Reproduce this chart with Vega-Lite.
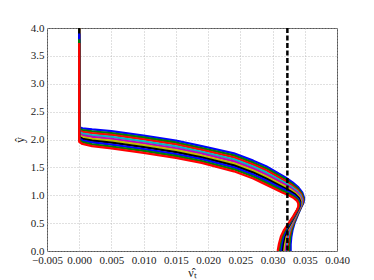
{
  "$schema": "https://vega.github.io/schema/vega-lite/v6.json",
  "width": 290,
  "height": 223,
  "autosize": "none",
  "padding": {"left": 47, "top": 28, "right": 37, "bottom": 29},
  "background": "white",
  "config": {
    "view": {"stroke": "#555555", "strokeWidth": 1},
    "axis": {
      "labelFont": "Liberation Serif",
      "labelFontSize": 11,
      "labelColor": "#222222",
      "titleFont": "Liberation Serif",
      "titleFontSize": 12,
      "titleFontWeight": "normal",
      "titleColor": "#222222",
      "grid": true,
      "gridColor": "#b0b0b0",
      "gridDash": [1, 2],
      "gridWidth": 0.8,
      "domain": false,
      "ticks": false,
      "labelOverlap": false
    }
  },
  "layer": [
    {
      "data": {"values": [
        {"s":1,"k":0,"x":0,"y":4.0},{"s":1,"k":1,"x":0,"y":2.22},{"s":1,"k":2,"x":0.0005,"y":2.20},{"s":1,"k":3,"x":0.002,"y":2.18},{"s":1,"k":4,"x":0.005,"y":2.15},{"s":1,"k":5,"x":0.010,"y":2.07},{"s":1,"k":6,"x":0.015,"y":1.98},{"s":1,"k":7,"x":0.019,"y":1.88},{"s":1,"k":8,"x":0.024,"y":1.75},{"s":1,"k":9,"x":0.027,"y":1.62},{"s":1,"k":10,"x":0.029,"y":1.52},{"s":1,"k":11,"x":0.0320,"y":1.32},{"s":1,"k":11.5,"x":0.0331,"y":1.23},{"s":1,"k":12,"x":0.0340,"y":1.14},{"s":1,"k":12.5,"x":0.0346,"y":1.05},{"s":1,"k":13,"x":0.0349,"y":0.95},{"s":1,"k":13.5,"x":0.0348,"y":0.87},{"s":1,"k":14,"x":0.0345,"y":0.80},{"s":1,"k":15,"x":0.0340,"y":0.67},{"s":1,"k":16,"x":0.0334,"y":0.50},{"s":1,"k":17,"x":0.0331,"y":0.38},{"s":1,"k":18,"x":0.0329,"y":0.25},{"s":1,"k":19,"x":0.0328,"y":0.12},{"s":1,"k":20,"x":0.0328,"y":0.0},
        {"s":2,"k":0,"x":0,"y":4.0},{"s":2,"k":1,"x":0,"y":2.191},{"s":2,"k":2,"x":0.0005,"y":2.169},{"s":2,"k":3,"x":0.002,"y":2.147},{"s":2,"k":4,"x":0.005,"y":2.116},{"s":2,"k":5,"x":0.010,"y":2.036},{"s":2,"k":6,"x":0.015,"y":1.946},{"s":2,"k":7,"x":0.019,"y":1.847},{"s":2,"k":8,"x":0.024,"y":1.714},{"s":2,"k":9,"x":0.027,"y":1.584},{"s":2,"k":10,"x":0.029,"y":1.483},{"s":2,"k":11,"x":0.03194,"y":1.29},{"s":2,"k":11.5,"x":0.03303,"y":1.204},{"s":2,"k":12,"x":0.03392,"y":1.119},{"s":2,"k":12.5,"x":0.03451,"y":1.033},{"s":2,"k":13,"x":0.0348,"y":0.939},{"s":2,"k":13.5,"x":0.03471,"y":0.862},{"s":2,"k":14,"x":0.03442,"y":0.793},{"s":2,"k":15,"x":0.03391,"y":0.664},{"s":2,"k":16,"x":0.0333,"y":0.50},{"s":2,"k":17,"x":0.03296,"y":0.38},{"s":2,"k":18,"x":0.03272,"y":0.251},{"s":2,"k":19,"x":0.0326,"y":0.121},{"s":2,"k":20,"x":0.03258,"y":0.0},
        {"s":3,"k":0,"x":0,"y":4.0},{"s":3,"k":1,"x":0,"y":2.162},{"s":3,"k":2,"x":0.0005,"y":2.138},{"s":3,"k":3,"x":0.002,"y":2.113},{"s":3,"k":4,"x":0.005,"y":2.081},{"s":3,"k":5,"x":0.010,"y":2.001},{"s":3,"k":6,"x":0.015,"y":1.911},{"s":3,"k":7,"x":0.019,"y":1.813},{"s":3,"k":8,"x":0.024,"y":1.679},{"s":3,"k":9,"x":0.027,"y":1.549},{"s":3,"k":10,"x":0.029,"y":1.447},{"s":3,"k":11,"x":0.03189,"y":1.26},{"s":3,"k":11.5,"x":0.03297,"y":1.179},{"s":3,"k":12,"x":0.03384,"y":1.098},{"s":3,"k":12.5,"x":0.03442,"y":1.017},{"s":3,"k":13,"x":0.0347,"y":0.928},{"s":3,"k":13.5,"x":0.03462,"y":0.853},{"s":3,"k":14,"x":0.03434,"y":0.787},{"s":3,"k":15,"x":0.03382,"y":0.659},{"s":3,"k":16,"x":0.0332,"y":0.50},{"s":3,"k":17,"x":0.03281,"y":0.38},{"s":3,"k":18,"x":0.03254,"y":0.252},{"s":3,"k":19,"x":0.0324,"y":0.122},{"s":3,"k":20,"x":0.03236,"y":0.0},
        {"s":4,"k":0,"x":0,"y":4.0},{"s":4,"k":1,"x":0,"y":2.133},{"s":4,"k":2,"x":0.0005,"y":2.107},{"s":4,"k":3,"x":0.002,"y":2.08},{"s":4,"k":4,"x":0.005,"y":2.047},{"s":4,"k":5,"x":0.010,"y":1.967},{"s":4,"k":6,"x":0.015,"y":1.877},{"s":4,"k":7,"x":0.019,"y":1.78},{"s":4,"k":8,"x":0.024,"y":1.643},{"s":4,"k":9,"x":0.027,"y":1.513},{"s":4,"k":10,"x":0.029,"y":1.41},{"s":4,"k":11,"x":0.03183,"y":1.23},{"s":4,"k":11.5,"x":0.0329,"y":1.153},{"s":4,"k":12,"x":0.03377,"y":1.077},{"s":4,"k":12.5,"x":0.03433,"y":1.0},{"s":4,"k":13,"x":0.0346,"y":0.917},{"s":4,"k":13.5,"x":0.03453,"y":0.845},{"s":4,"k":14,"x":0.03427,"y":0.78},{"s":4,"k":15,"x":0.03373,"y":0.653},{"s":4,"k":16,"x":0.0331,"y":0.50},{"s":4,"k":17,"x":0.03267,"y":0.38},{"s":4,"k":18,"x":0.03237,"y":0.253},{"s":4,"k":19,"x":0.0322,"y":0.123},{"s":4,"k":20,"x":0.03213,"y":0.0},
        {"s":5,"k":0,"x":0,"y":4.0},{"s":5,"k":1,"x":0,"y":2.104},{"s":5,"k":2,"x":0.0005,"y":2.076},{"s":5,"k":3,"x":0.002,"y":2.047},{"s":5,"k":4,"x":0.005,"y":2.012},{"s":5,"k":5,"x":0.010,"y":1.932},{"s":5,"k":6,"x":0.015,"y":1.842},{"s":5,"k":7,"x":0.019,"y":1.747},{"s":5,"k":8,"x":0.024,"y":1.608},{"s":5,"k":9,"x":0.027,"y":1.478},{"s":5,"k":10,"x":0.029,"y":1.373},{"s":5,"k":11,"x":0.03178,"y":1.20},{"s":5,"k":11.5,"x":0.03283,"y":1.128},{"s":5,"k":12,"x":0.03369,"y":1.056},{"s":5,"k":12.5,"x":0.03424,"y":0.983},{"s":5,"k":13,"x":0.0345,"y":0.906},{"s":5,"k":13.5,"x":0.03444,"y":0.837},{"s":5,"k":14,"x":0.03419,"y":0.773},{"s":5,"k":15,"x":0.03364,"y":0.648},{"s":5,"k":16,"x":0.0330,"y":0.50},{"s":5,"k":17,"x":0.03252,"y":0.38},{"s":5,"k":18,"x":0.03219,"y":0.254},{"s":5,"k":19,"x":0.0320,"y":0.124},{"s":5,"k":20,"x":0.03191,"y":0.0},
        {"s":6,"k":0,"x":0,"y":4.0},{"s":6,"k":1,"x":0,"y":2.076},{"s":6,"k":2,"x":0.0005,"y":2.044},{"s":6,"k":3,"x":0.002,"y":2.013},{"s":6,"k":4,"x":0.005,"y":1.978},{"s":6,"k":5,"x":0.010,"y":1.898},{"s":6,"k":6,"x":0.015,"y":1.808},{"s":6,"k":7,"x":0.019,"y":1.713},{"s":6,"k":8,"x":0.024,"y":1.572},{"s":6,"k":9,"x":0.027,"y":1.442},{"s":6,"k":10,"x":0.029,"y":1.337},{"s":6,"k":11,"x":0.03172,"y":1.17},{"s":6,"k":11.5,"x":0.03277,"y":1.102},{"s":6,"k":12,"x":0.03361,"y":1.034},{"s":6,"k":12.5,"x":0.03416,"y":0.967},{"s":6,"k":13,"x":0.0344,"y":0.894},{"s":6,"k":13.5,"x":0.03436,"y":0.828},{"s":6,"k":14,"x":0.03411,"y":0.767},{"s":6,"k":15,"x":0.03356,"y":0.642},{"s":6,"k":16,"x":0.0329,"y":0.50},{"s":6,"k":17,"x":0.03238,"y":0.38},{"s":6,"k":18,"x":0.03201,"y":0.256},{"s":6,"k":19,"x":0.0318,"y":0.126},{"s":6,"k":20,"x":0.03169,"y":0.0},
        {"s":7,"k":0,"x":0,"y":4.0},{"s":7,"k":1,"x":0,"y":2.047},{"s":7,"k":2,"x":0.0005,"y":2.013},{"s":7,"k":3,"x":0.002,"y":1.98},{"s":7,"k":4,"x":0.005,"y":1.943},{"s":7,"k":5,"x":0.010,"y":1.863},{"s":7,"k":6,"x":0.015,"y":1.773},{"s":7,"k":7,"x":0.019,"y":1.68},{"s":7,"k":8,"x":0.024,"y":1.537},{"s":7,"k":9,"x":0.027,"y":1.407},{"s":7,"k":10,"x":0.029,"y":1.30},{"s":7,"k":11,"x":0.03167,"y":1.14},{"s":7,"k":11.5,"x":0.0327,"y":1.077},{"s":7,"k":12,"x":0.03353,"y":1.013},{"s":7,"k":12.5,"x":0.03407,"y":0.95},{"s":7,"k":13,"x":0.0343,"y":0.883},{"s":7,"k":13.5,"x":0.03427,"y":0.82},{"s":7,"k":14,"x":0.03403,"y":0.76},{"s":7,"k":15,"x":0.03347,"y":0.637},{"s":7,"k":16,"x":0.0328,"y":0.50},{"s":7,"k":17,"x":0.03223,"y":0.38},{"s":7,"k":18,"x":0.03183,"y":0.257},{"s":7,"k":19,"x":0.0316,"y":0.127},{"s":7,"k":20,"x":0.03147,"y":0.0},
        {"s":8,"k":0,"x":0,"y":3.9},{"s":8,"k":1,"x":0,"y":2.018},{"s":8,"k":2,"x":0.0005,"y":1.982},{"s":8,"k":3,"x":0.002,"y":1.947},{"s":8,"k":4,"x":0.005,"y":1.909},{"s":8,"k":5,"x":0.010,"y":1.829},{"s":8,"k":6,"x":0.015,"y":1.739},{"s":8,"k":7,"x":0.019,"y":1.647},{"s":8,"k":8,"x":0.024,"y":1.501},{"s":8,"k":9,"x":0.027,"y":1.371},{"s":8,"k":10,"x":0.029,"y":1.263},{"s":8,"k":11,"x":0.03161,"y":1.11},{"s":8,"k":11.5,"x":0.03263,"y":1.051},{"s":8,"k":12,"x":0.03346,"y":0.992},{"s":8,"k":12.5,"x":0.03398,"y":0.933},{"s":8,"k":13,"x":0.0342,"y":0.872},{"s":8,"k":13.5,"x":0.03418,"y":0.812},{"s":8,"k":14,"x":0.03396,"y":0.753},{"s":8,"k":15,"x":0.03338,"y":0.631},{"s":8,"k":16,"x":0.0327,"y":0.50},{"s":8,"k":17,"x":0.03209,"y":0.38},{"s":8,"k":18,"x":0.03166,"y":0.258},{"s":8,"k":19,"x":0.0314,"y":0.128},{"s":8,"k":20,"x":0.03124,"y":0.0},
        {"s":9,"k":0,"x":0,"y":3.8},{"s":9,"k":1,"x":0,"y":1.989},{"s":9,"k":2,"x":0.0005,"y":1.951},{"s":9,"k":3,"x":0.002,"y":1.913},{"s":9,"k":4,"x":0.005,"y":1.874},{"s":9,"k":5,"x":0.010,"y":1.794},{"s":9,"k":6,"x":0.015,"y":1.704},{"s":9,"k":7,"x":0.019,"y":1.613},{"s":9,"k":8,"x":0.024,"y":1.466},{"s":9,"k":9,"x":0.027,"y":1.336},{"s":9,"k":10,"x":0.029,"y":1.227},{"s":9,"k":11,"x":0.03156,"y":1.08},{"s":9,"k":11.5,"x":0.03257,"y":1.026},{"s":9,"k":12,"x":0.03338,"y":0.971},{"s":9,"k":12.5,"x":0.03389,"y":0.917},{"s":9,"k":13,"x":0.0341,"y":0.861},{"s":9,"k":13.5,"x":0.03409,"y":0.803},{"s":9,"k":14,"x":0.03388,"y":0.747},{"s":9,"k":15,"x":0.03329,"y":0.626},{"s":9,"k":16,"x":0.0326,"y":0.50},{"s":9,"k":17,"x":0.03194,"y":0.38},{"s":9,"k":18,"x":0.03148,"y":0.259},{"s":9,"k":19,"x":0.0312,"y":0.129},{"s":9,"k":20,"x":0.03102,"y":0.0},
        {"s":10,"k":0,"x":0,"y":3.73},{"s":10,"k":1,"x":0,"y":1.96},{"s":10,"k":2,"x":0.0005,"y":1.92},{"s":10,"k":3,"x":0.002,"y":1.88},{"s":10,"k":4,"x":0.005,"y":1.84},{"s":10,"k":5,"x":0.010,"y":1.76},{"s":10,"k":6,"x":0.015,"y":1.67},{"s":10,"k":7,"x":0.019,"y":1.58},{"s":10,"k":8,"x":0.024,"y":1.43},{"s":10,"k":9,"x":0.027,"y":1.30},{"s":10,"k":10,"x":0.029,"y":1.19},{"s":10,"k":11,"x":0.0315,"y":1.05},{"s":10,"k":11.5,"x":0.0325,"y":1.0},{"s":10,"k":12,"x":0.0333,"y":0.95},{"s":10,"k":12.5,"x":0.0338,"y":0.9},{"s":10,"k":13,"x":0.0340,"y":0.85},{"s":10,"k":13.5,"x":0.0340,"y":0.795},{"s":10,"k":14,"x":0.0338,"y":0.74},{"s":10,"k":15,"x":0.0332,"y":0.62},{"s":10,"k":16,"x":0.0325,"y":0.50},{"s":10,"k":17,"x":0.0318,"y":0.38},{"s":10,"k":18,"x":0.0313,"y":0.26},{"s":10,"k":19,"x":0.0310,"y":0.13},{"s":10,"k":20,"x":0.0308,"y":0.0}
      ]},
      "mark": {"type": "line", "strokeWidth": 2.3, "clip": true, "strokeJoin": "round"},
      "encoding": {
        "x": {
          "field": "x", "type": "quantitative",
          "scale": {"domain": [-0.005, 0.04], "nice": false, "zero": false},
          "axis": {"values": [-0.005, 0, 0.005, 0.01, 0.015, 0.02, 0.025, 0.03, 0.035, 0.04], "format": ".3f", "title": "ν̂ₜ", "labelPadding": 3, "titlePadding": 2, "labelOverlap": false, "labelFlush": false, "labelBound": false, "labelSeparation": 0}
        },
        "y": {
          "field": "y", "type": "quantitative",
          "scale": {"domain": [0, 4], "nice": false},
          "axis": {"values": [0, 0.5, 1, 1.5, 2, 2.5, 3, 3.5, 4], "format": ".1f", "title": "ŷ", "labelPadding": 3, "titlePadding": 4, "labelOverlap": false, "labelFlush": false, "labelBound": false}
        },
        "order": {"field": "k", "type": "quantitative"},
        "color": {
          "field": "s", "type": "nominal",
          "scale": {"domain": [1, 2, 3, 4, 5, 6, 7, 8, 9, 10], "range": ["#0000ff", "#008000", "#ff0000", "#00bfbf", "#bf00bf", "#bfbf00", "#000000", "#0000ff", "#008000", "#ff0000"]},
          "legend": null
        }
      }
    },
    {
      "data": {"values": [{"x": 0.0323}]},
      "mark": {"type": "rule", "color": "black", "strokeWidth": 2.5, "strokeDash": [5, 2.5]},
      "encoding": {"x": {"field": "x", "type": "quantitative",
        "axis": {"values": [-0.005, 0, 0.005, 0.01, 0.015, 0.02, 0.025, 0.03, 0.035, 0.04], "format": ".3f", "title": "ν̂ₜ", "labelPadding": 3, "titlePadding": 2, "labelOverlap": false, "labelFlush": false, "labelBound": false, "labelSeparation": 0}}}
    }
  ]
}
